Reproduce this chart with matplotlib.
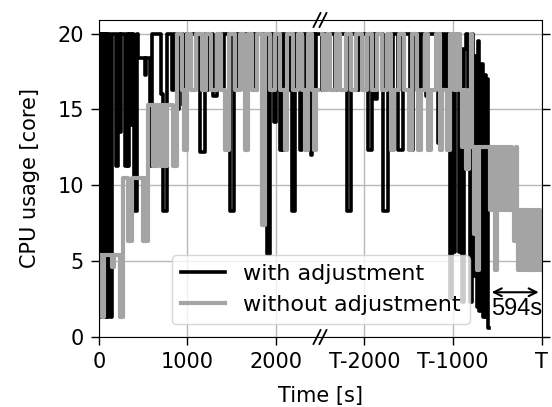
import matplotlib
matplotlib.use("Agg")
import matplotlib.pyplot as plt
from matplotlib.lines import Line2D

# CPU usage traces (seconds, cores), step-wise; right panel is time relative to the end T
with_adj_early = [
    (0, 20), (6, 1.3), (16, 20), (24, 1.3), (36, 20), (44, 1.3), (56, 20), (64, 1.3),
    (78, 20), (86, 1.3), (98, 20), (128, 1.3), (150, 20), (190, 11.3), (215, 20),
    (240, 13.5), (250, 20), (295, 11.3), (315, 20), (330, 11.3), (345, 20), (360, 14),
    (372, 20), (400, 8.3), (432, 20), (445, 18.4), (520, 17.3), (530, 18.4), (575, 15.0),
    (588, 11.3), (605, 20), (700, 16), (725, 8.3), (765, 20), (830, 16.3), (850, 20),
    (880, 15.0), (900, 20), (955, 15.3), (980, 20), (1140, 12.2), (1195, 20), (1215, 16.3),
    (1235, 20), (1290, 15.9), (1330, 20), (1390, 16.3), (1410, 20), (1480, 8.3), (1530, 20),
    (1545, 16.3), (1570, 20), (1580, 16.3), (1600, 20), (1770, 16.3), (1790, 20), (1900, 5.5),
    (1932, 20), (1985, 14.2), (2000, 20), (2040, 16.3), (2050, 12.3), (2075, 20), (2085, 12.3),
    (2100, 20), (2140, 16.3), (2160, 20), (2180, 8.3), (2212, 20), (2240, 16.3), (2255, 20),
    (2270, 12.3), (2300, 20), (2340, 16.3), (2360, 20), (2400, 12.0), (2415, 20), (2440, 16.3),
    (2460, 20), (2500, 20),
]
without_adj_early = [
    (0, 5.4), (38, 1.3), (58, 5.4), (150, 4.6), (165, 5.4), (238, 1.3), (272, 10.5), (330, 6.3),
    (368, 10.5), (500, 6.3), (520, 10.5), (532, 6.3), (550, 15.3), (610, 11.3), (632, 15.3),
    (650, 11.3), (672, 15.3), (700, 11.3), (725, 15.3), (745, 11.3), (768, 15.3), (840, 11.3),
    (888, 20), (940, 16.3), (965, 12.3), (990, 20), (1040, 16.3), (1100, 20), (1160, 16.3),
    (1215, 20), (1270, 16.3), (1330, 20), (1380, 16.3), (1425, 12.3), (1470, 20), (1540, 16.3),
    (1600, 20), (1640, 16.3), (1655, 12.3), (1680, 20), (1735, 16.3), (1790, 20), (1845, 7.4),
    (1875, 20), (1935, 16.3), (1990, 20), (2045, 16.3), (2100, 12.3), (2125, 20), (2190, 16.3),
    (2250, 20), (2300, 16.3), (2335, 12.3), (2360, 20), (2410, 16.3), (2430, 12.3), (2460, 16.3),
    (2500, 16.3),
]
with_adj_late = [
    (-2500, 20), (-2480, 16.3), (-2462, 20), (-2330, 16.3), (-2312, 20), (-2200, 8.3),
    (-2145, 20), (-2080, 16.3), (-2062, 20), (-1960, 12.3), (-1918, 20), (-1880, 15.7),
    (-1862, 20), (-1790, 8.3), (-1738, 20), (-1700, 16.3), (-1680, 20), (-1620, 12.3),
    (-1568, 20), (-1485, 12.3), (-1450, 20), (-1380, 16.3), (-1360, 20), (-1300, 15.9),
    (-1280, 20), (-1165, 12.8), (-1125, 20), (-1090, 16.3), (-1072, 20), (-1030, 2.6),
    (-1005, 20), (-985, 5.6), (-972, 19.2), (-955, 20), (-935, 5.6), (-915, 19), (-895, 2.3),
    (-870, 19), (-850, 20), (-830, 16), (-810, 2.3), (-790, 20), (-770, 4), (-752, 18.5),
    (-732, 2.0), (-715, 19.5), (-700, 1.7), (-682, 18), (-665, 1.3), (-642, 17.3),
    (-625, 1.3), (-612, 17.0), (-600, 0.6), (-594, 0.6),
]
without_adj_late = [
    (-2500, 20), (-2470, 16.3), (-2420, 20), (-2385, 16.3), (-2325, 20), (-2270, 16.3),
    (-2210, 20), (-2150, 16.3), (-2090, 20), (-2030, 16.3), (-1975, 20), (-1915, 16.3),
    (-1855, 20), (-1800, 16.3), (-1745, 20), (-1700, 12.3), (-1665, 16.3), (-1610, 20),
    (-1555, 16.3), (-1495, 12.3), (-1465, 20), (-1410, 16.3), (-1390, 12.3), (-1360, 16.3),
    (-1310, 20), (-1280, 12.3), (-1245, 16.3), (-1195, 20), (-1150, 12.3), (-1120, 16.3),
    (-1065, 12.3), (-1035, 20), (-990, 16.3), (-950, 20), (-925, 16.3), (-895, 12.5),
    (-875, 16.3), (-850, 11.1), (-815, 16.3), (-795, 20), (-780, 12.5), (-765, 6.8),
    (-745, 12.5), (-730, 4.4), (-700, 12.5), (-578, 8.4), (-560, 12.5), (-522, 4.4),
    (-500, 12.5), (-485, 8.4), (-470, 12.5), (-450, 8.4), (-430, 12.5), (-410, 8.4),
    (-390, 12.5), (-370, 8.4), (-350, 12.5), (-330, 8.4), (-315, 6.3), (-290, 12.5),
    (-275, 8.4), (-262, 4.4), (-240, 8.4), (-225, 4.4), (-205, 8.4), (-190, 4.4),
    (-170, 8.4), (-150, 4.4), (-135, 8.4), (-115, 4.4), (-95, 8.4), (-80, 4.4),
    (-60, 8.4), (-45, 4.4), (-25, 8.4), (-12, 4.4), (0, 4.4),
]

series_labels = ["with adjustment", "without adjustment"]
left_ticks = [0, 1000, 2000]
left_ticklabels = ["0", "1000", "2000"]
right_ticks = [-2000, -1000, 0]
right_ticklabels = ["T-2000", "T-1000", "T"]
y_ticks = [0, 5, 10, 15, 20]
finish_gap = 594

BLACK = "black"
GRAY = "#a4a4a4"
FS = 15

W, H = 552, 407
fig = plt.figure(figsize=(W / 100, H / 100), dpi=100)


def fx(px):
    return px / W


def fy(py):
    return 1 - py / H


x0, xm, x1 = 99, 320, 541.5
ytop, ybot = 20, 337
ax1 = fig.add_axes([fx(x0), fy(ybot), fx(xm - x0), fy(ytop) - fy(ybot)])
ax2 = fig.add_axes([fx(xm), fy(ybot), fx(x1 - xm), fy(ytop) - fy(ybot)])


def unzip(pairs):
    return [p[0] for p in pairs], [p[1] for p in pairs]


for ax, blk, gry in ((ax1, with_adj_early, without_adj_early),
                     (ax2, with_adj_late, without_adj_late)):
    bt, bv = unzip(blk)
    gt, gv = unzip(gry)
    ax.plot(bt, bv, drawstyle="steps-post", color=BLACK, lw=2.6)
    ax.plot(gt, gv, drawstyle="steps-post", color=GRAY, lw=3.0)
    ax.set_ylim(0, 20.9)
    ax.set_yticks(y_ticks)
    ax.grid(True, color="#b8b8b8", lw=1.0)
    ax.set_axisbelow(True)
    ax.tick_params(labelsize=FS, length=6, width=1.0, pad=5)

ax1.set_xlim(0, 2500)
ax1.set_xticks(left_ticks, left_ticklabels)
ax1.spines["right"].set_visible(False)

ax2.set_xlim(-2500, 0)
ax2.set_xticks(right_ticks, right_ticklabels)
ax2.spines["left"].set_visible(False)
ax2.tick_params(axis="y", left=False, labelleft=False, right=True, labelright=False)

# break marks on the top and bottom spines
for yb in (ytop, ybot):
    for xc in (xm - 3, xm + 3):
        fig.add_artist(Line2D([fx(xc - 3.5), fx(xc + 3.5)], [fy(yb + 7), fy(yb - 7)],
                              color="black", lw=1.3, transform=fig.transFigure,
                              clip_on=False))

# run-time difference annotation
ax2.annotate("", xy=(-finish_gap, 2.95), xytext=(0, 2.95),
             arrowprops=dict(arrowstyle="<->", color="black", lw=1.5,
                             mutation_scale=14))
ax2.text(-285, 1.85, f"{finish_gap}s", ha="center", va="center",
         fontsize=17, family="Liberation Sans")

fig.text(fx(320), fy(396), "Time [s]", ha="center", va="center", fontsize=FS)
fig.text(fx(30), fy(178), "CPU usage [core]", ha="center", va="center",
         rotation=90, fontsize=FS)

handles = [Line2D([], [], color=BLACK, lw=2.6), Line2D([], [], color=GRAY, lw=3.0)]
fig.legend(handles, series_labels, loc="lower left",
           bbox_to_anchor=(fx(172), fy(324)), bbox_transform=fig.transFigure,
           borderaxespad=0, fontsize=16, framealpha=0.8, handlelength=2.0)

fig.savefig("out.png", dpi=100)
